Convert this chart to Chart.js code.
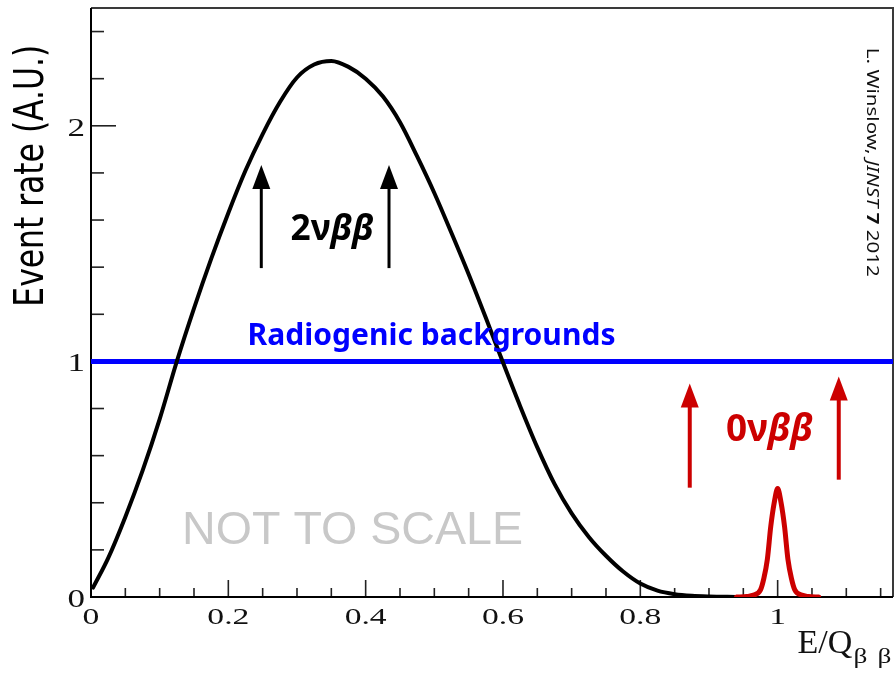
<!DOCTYPE html>
<html><head><meta charset="utf-8">
<script src="https://cdn.jsdelivr.net/npm/chart.js@4.4.1/dist/chart.umd.min.js"></script>
<style>html,body{margin:0;padding:0;background:#fff}canvas{display:block}</style>
</head><body>
<canvas id="c" width="895" height="673"></canvas>
<script>
// ---- data ----
const twoNuX = [0.003,0.025,0.05,0.075,0.10,0.125,0.15,0.175,0.20,0.225,0.25,0.275,0.30,0.325,0.35,0.375,0.40,0.425,0.45,0.475,0.50,0.525,0.55,0.575,0.60,0.625,0.65,0.675,0.70,0.725,0.75,0.775,0.80,0.825,0.85,0.875,0.90,0.94];
const twoNuY = [0.04,0.165,0.34,0.535,0.755,1.00,1.225,1.435,1.63,1.81,1.965,2.10,2.205,2.26,2.275,2.25,2.20,2.125,2.015,1.87,1.715,1.545,1.37,1.185,0.995,0.81,0.635,0.48,0.355,0.255,0.175,0.108,0.057,0.027,0.012,0.005,0.002,0.0];
const zeroNuX = [0.94,0.955,0.965,0.975,0.98,0.985,0.99,0.995,1.0,1.005,1.01,1.015,1.02,1.025,1.035,1.045,1.06];
const zeroNuY = [0,0.002,0.008,0.03,0.08,0.16,0.30,0.40,0.46,0.40,0.30,0.16,0.08,0.03,0.008,0.002,0];
const bgX = [0, 1.168];
const bgY = [1, 1];
const xTickValues = [0,0.2,0.4,0.6,0.8,1];
const xTickLabels = ['0','0.2','0.4','0.6','0.8','1'];
const yTickValues = [0,1,2];
const yTickLabels = ['0','1','2'];

const toPts = (xs, ys) => xs.map((x, i) => ({x: x, y: ys[i]}));

// ---- annotation layout ----
const arrowDefs = [
  {x: 0.248, y0: 1.396, y1: 1.834, color: '#000000', w: 3},
  {x: 0.434, y0: 1.396, y1: 1.834, color: '#000000', w: 3},
  {x: 0.872, y0: 0.464, y1: 0.906, color: '#cc0000', w: 4},
  {x: 1.089, y0: 0.498, y1: 0.936, color: '#cc0000', w: 4}
];

function drawParts(ctx, parts, family, cx, baseline, targetW, color) {
  let total = 0;
  parts.forEach(p => { ctx.font = p.style + ' 100px "' + family + '"'; p.w = ctx.measureText(p.t).width; total += p.w; });
  const size = 100 * targetW / total;
  let xx = cx - targetW / 2;
  ctx.fillStyle = color; ctx.textAlign = 'left'; ctx.textBaseline = 'alphabetic';
  parts.forEach(p => { ctx.font = p.style + ' ' + size + 'px "' + family + '"'; ctx.fillText(p.t, xx, baseline); xx += p.w * size / 100; });
}
function stretched(ctx, text, x, y, align, sx) {
  ctx.save(); ctx.translate(x, y); ctx.scale(sx, 1);
  ctx.textAlign = align; ctx.textBaseline = 'alphabetic'; ctx.fillText(text, 0, 0); ctx.restore();
}
const isMajor = (vals, v) => vals.some(m => Math.abs(m - v) < 1e-6);

const framePlugin = {
  id: 'frame',
  beforeDatasetsDraw(chart) {
    const {ctx, chartArea: a, scales: {x, y}} = chart;
    ctx.save();
    // tick marks (inward)
    ctx.strokeStyle = '#222'; ctx.lineWidth = 1.6;
    x.ticks.forEach(t => {
      const px = x.getPixelForValue(t.value);
      const len = isMajor(xTickValues, t.value) ? 17 : 9;
      ctx.beginPath(); ctx.moveTo(px, a.bottom); ctx.lineTo(px, a.bottom - len); ctx.stroke();
    });
    y.ticks.forEach(t => {
      const py = y.getPixelForValue(t.value);
      const len = isMajor(yTickValues, t.value) ? 25 : 13;
      ctx.beginPath(); ctx.moveTo(a.left, py); ctx.lineTo(a.left + len, py); ctx.stroke();
    });
    // frame
    ctx.strokeStyle = '#3a3a3a'; ctx.lineWidth = 2;
    ctx.beginPath(); ctx.moveTo(a.left, a.top); ctx.lineTo(a.right, a.top); ctx.lineTo(a.right, a.bottom); ctx.stroke();
    ctx.strokeStyle = '#000'; ctx.lineWidth = 2;
    ctx.beginPath(); ctx.moveTo(a.left, a.top); ctx.lineTo(a.left, a.bottom); ctx.lineTo(a.right, a.bottom); ctx.stroke();
    // tick labels
    ctx.fillStyle = '#111';
    ctx.font = '24px "Liberation Serif"';
    xTickValues.forEach((v, i) => stretched(ctx, xTickLabels[i], x.getPixelForValue(v), a.bottom + 27, 'center', 1.4));
    ctx.font = '25px "Liberation Serif"';
    yTickValues.forEach((v, i) => stretched(ctx, yTickLabels[i], a.left - 6, y.getPixelForValue(v) + 10, 'right', 1.4));
    // x axis title
    ctx.fillStyle = '#111';
    const tx = x.getPixelForValue(1.029);
    ctx.font = '34px "Liberation Serif"'; ctx.textAlign = 'left'; ctx.textBaseline = 'alphabetic';
    ctx.fillText('E/Q', tx, a.bottom + 56);
    ctx.font = '21px "Liberation Serif"';
    stretched(ctx, 'β', tx + 56, a.bottom + 66, 'left', 1.3);
    stretched(ctx, 'β', tx + 80, a.bottom + 66, 'left', 1.3);
    // y axis title
    ctx.save();
    ctx.fillStyle = '#000';
    ctx.font = '100px "DejaVu Sans"';
    const ttl = 'Event rate (A.U.)';
    const sz = 100 * 262 / ctx.measureText(ttl).width;
    ctx.font = sz + 'px "DejaVu Sans"';
    ctx.translate(43, y.getPixelForValue(1.788));
    ctx.scale(1.3, 1); ctx.rotate(-Math.PI / 2);
    ctx.textAlign = 'center'; ctx.textBaseline = 'alphabetic';
    ctx.fillText(ttl, 0, 0);
    ctx.restore();
    ctx.restore();
  },
  afterDatasetsDraw(chart) {
    const {ctx, scales: {x, y}} = chart;
    ctx.save();
    // arrows
    arrowDefs.forEach(d => {
      const px = x.getPixelForValue(d.x), pb = y.getPixelForValue(d.y0), pt = y.getPixelForValue(d.y1);
      ctx.strokeStyle = d.color; ctx.fillStyle = d.color; ctx.lineWidth = d.w;
      ctx.beginPath(); ctx.moveTo(px, pb); ctx.lineTo(px, pt + 20); ctx.stroke();
      ctx.beginPath(); ctx.moveTo(px, pt); ctx.lineTo(px - 9, pt + 24); ctx.lineTo(px + 9, pt + 24); ctx.closePath(); ctx.fill();
    });
    // texts
    drawParts(ctx, [{t: 'Radiogenic backgrounds', style: 'bold'}], 'Noto Sans', x.getPixelForValue(0.496), y.getPixelForValue(1.068), 368, '#0000ff');
    drawParts(ctx, [{t: 'NOT TO SCALE', style: 'normal'}], 'Liberation Sans', x.getPixelForValue(0.381), y.getPixelForValue(0.2255), 341, '#c8c8c8');
    drawParts(ctx, [{t: '2ν', style: 'bold'}, {t: 'ββ', style: 'italic bold'}], 'Noto Sans', x.getPixelForValue(0.351), y.getPixelForValue(1.515), 83, '#000000');
    drawParts(ctx, [{t: '0ν', style: 'bold'}, {t: 'ββ', style: 'italic bold'}], 'Noto Sans', x.getPixelForValue(0.988), y.getPixelForValue(0.664), 87, '#cc0000');
    // citation (vertical)
    ctx.save();
    ctx.translate(x.getPixelForValue(1.130), y.getPixelForValue(1.845));
    ctx.rotate(Math.PI / 2); ctx.scale(1, 0.8);
    drawParts(ctx, [{t: 'L. Winslow, ', style: 'normal'}, {t: 'JINST', style: 'italic'}, {t: ' 7', style: 'bold'}, {t: ' 2012', style: 'normal'}], 'Noto Sans', 0, 0, 229, '#111');
    ctx.restore();
    ctx.restore();
  }
};

const ds = (xs, ys, color, width, order) => ({
  data: toPts(xs, ys), borderColor: color, borderWidth: width, showLine: true,
  pointRadius: 0, cubicInterpolationMode: 'monotone', borderJoinStyle: 'round', borderCapStyle: 'round', order: order
});

new Chart(document.getElementById('c'), {
  type: 'scatter',
  data: { datasets: [
    ds(zeroNuX, zeroNuY, '#cc0000', 5, 1),
    ds(twoNuX, twoNuY, '#000000', 4, 2),
    ds(bgX, bgY, '#0000ff', 5, 3)
  ]},
  options: {
    responsive: false, animation: false, devicePixelRatio: 1,
    layout: { padding: { left: 0, top: 8, right: 2, bottom: 0 } },
    plugins: { legend: { display: false }, tooltip: { enabled: false } },
    scales: {
      x: { type: 'linear', min: 0, max: 1.168,
        ticks: { display: false, stepSize: 0.05, includeBounds: false },
        grid: { display: false }, border: { display: false },
        afterFit: s => { s.height = 76; } },
      y: { type: 'linear', min: 0, max: 2.5,
        ticks: { display: false, stepSize: 0.2, includeBounds: false },
        grid: { display: false }, border: { display: false },
        afterFit: s => { s.width = 91; } }
    }
  },
  plugins: [framePlugin]
});
</script>
</body></html>
